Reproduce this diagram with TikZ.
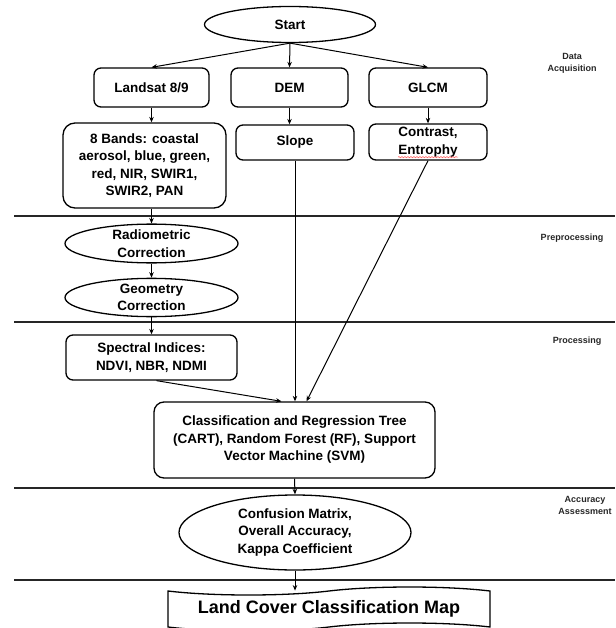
\documentclass[tikz,border=0pt]{standalone}
\usepackage{fontspec}
\setmainfont{Liberation Sans}
\usetikzlibrary{shapes.geometric,shapes.symbols,arrows.meta,calc,decorations.pathmorphing}

\begin{document}
\begin{tikzpicture}[x=1pt,y=-1pt,
                    every node/.style={font=\bfseries\fontsize{13.5}{17.5}\selectfont, align=center, inner sep=0pt},
                    box/.style={draw, line width=1.3pt, rounded corners=7pt},
                    oval/.style={draw, ellipse, line width=1.3pt},
                    arr/.style={-{Stealth[length=5.5pt,width=4.5pt]}, line width=1pt},
                    sepline/.style={line width=2pt, black!85},
                    stagelabel/.style={font=\bfseries\fontsize{9}{12}\selectfont, text=black!85}
]
\useasboundingbox (0,0) rectangle (615,628);
\clip (0,0) rectangle (615,628);

% stage separators
\draw[sepline] (14,216) -- (615,216);
\draw[sepline] (14,322) -- (615,322);
\draw[sepline] (14,488) -- (615,488);
\draw[sepline] (14,580) -- (615,580);

\node [stagelabel] at (572,63) (lblacq) {Data\\Acquisition};
\node [stagelabel] at (572,238) (lblpre) {Preprocessing};
\node [stagelabel] at (577,341) (lblproc) {Processing};
\node [stagelabel] at (585,505) (lblacc) {Accuracy\\Assessment};

% data acquisition
\node [oval, minimum width=171pt, minimum height=36pt] at (290,24.5) (start) {Start};
\node [box, minimum width=115pt, minimum height=39pt] at (151.5,87.5) (landsat) {Landsat 8/9};
\node [box, minimum width=117pt, minimum height=39pt] at (289.5,87.5) (dem) {DEM};
\node [box, minimum width=118pt, minimum height=39pt] at (428,87.5) (glcm) {GLCM};
\node [box, rounded corners=12pt, minimum width=163pt, minimum height=85pt] at (144.5,165.5) (bands)
      {8 Bands: coastal\\aerosol, blue, green,\\red, NIR, SWIR1,\\SWIR2, PAN};
\node [box, minimum width=118pt, minimum height=35pt] at (295,142.5) (slope) {Slope};
\node [box, minimum width=118pt, minimum height=36pt] at (428,142) (contrast) {Contrast,\\Entrophy};
\draw [red!60, line width=0.6pt, decorate, decoration={snake, amplitude=0.6pt, segment length=3pt}]
      ($(contrast.south)+(-30,-3.5)$) -- ++(60,0);
%
\draw[arr] (start.south) -- (landsat.north);
\draw[arr] (start.south) -- (dem.north);
\draw[arr] (start.south) -- (glcm.north);
\draw[arr] (landsat.south) -- (landsat.south |- bands.north);
\draw[arr] (dem.south) -- (dem.south |- slope.north);
\draw[arr] (glcm.south) -- (contrast.north);

% preprocessing
\node [oval, minimum width=173pt, minimum height=33pt] at (151.5,243.5) (radio) {Radiometric\\Correction};
\node [oval, minimum width=173pt, minimum height=35pt] at (151.5,297.5) (geom) {Geometry\\Correction};
\draw[arr] (landsat.south |- bands.south) -- (radio.north);
\draw[arr] (radio.south) -- (geom.north);

% processing
\node [box, minimum width=171pt, minimum height=45pt] at (151.5,357.5) (spec) {Spectral Indices:\\NDVI, NBR, NDMI};
\node [box, rounded corners=10pt, minimum width=281pt, minimum height=76pt] at (294.5,440) (cart)
      {Classification and Regression Tree\\(CART), Random Forest (RF), Support\\Vector Machine (SVM)};
\draw[arr] (geom.south) -- (spec.north);
\draw[arr] ($(spec.south)+(5,0)$) -- ($(cart.north)+(-13,0)$);
\draw[arr] (slope.south) -- (slope.south |- cart.north);
\draw[arr] (contrast.south) -- ($(cart.north)+(12,0)$);

% accuracy assessment
\node [oval, minimum width=232pt, minimum height=75pt] at (295,532.5) (conf)
      {Confusion Matrix,\\Overall Accuracy,\\Kappa Coefficient};
\node [draw, tape, line width=1.3pt, tape bend top=in and out, tape bend bottom=in and out,
       tape bend height=8pt, minimum width=322pt, minimum height=44pt,
       font=\bfseries\fontsize{18}{22}\selectfont] at (329,609) (map) {Land Cover Classification Map};
\draw[arr] (cart.south) -- (conf.north);
\draw[arr] (conf.south) -- (conf.south |- map.north);
\end{tikzpicture}
\end{document}
